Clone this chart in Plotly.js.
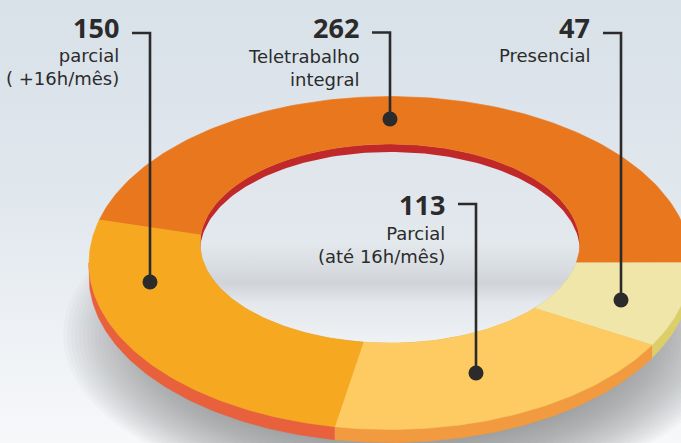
<!DOCTYPE html>
<html><head><meta charset="utf-8">
<script src="https://cdn.plot.ly/plotly-3.0.1.min.js"></script>
<style>html,body{margin:0;padding:0;background:#e3e9ef;} #chart{width:681px;height:443px;}</style>
</head><body><div id="chart"></div>
<script>
// ---- data ----
const categories = ['Teletrabalho integral', 'Presencial', 'Parcial (até 16h/mês)', 'parcial ( +16h/mês)'];
const values = [262, 47, 113, 150];
const valueLabels = ['262', '47', '113', '150'];
const nameLines = [['Teletrabalho', 'integral'], ['Presencial'], ['Parcial', '(até 16h/mês)'], ['parcial', '( +16h/mês)']];

// ---- styles ----
const topColors = ['#e8771e', '#f0e6aa', '#fdcb61', '#f6a920'];
const wallColors = ['#c8401f', '#dccf6a', '#f29a3f', '#e8603c'];
const innerWallColor = '#c0282a';
const ink = '#2b2b2b';
const NUM_FONT = '"Noto Sans", "Open Sans", sans-serif';
const TXT_FONT = '"DejaVu Sans", "Noto Sans", sans-serif';

// ---- label placement (pixel space) ----
const dotPos = [[390, 119], [621, 300], [476, 373], [150, 282]];
const elbowY = [32.5, 33, 204, 33];
const numberY = [27.5, 27, 204.5, 27];

// ---- ring geometry (normalised, tilted ellipse) ----
const G = {cx: 390, cy: 263, sx: 301, sy: 166.5, ih: 0.117, irx: 0.631, iry: 0.598,
           depth: 13, innerDepth: 8, start: 165};
const SH = {cx: 398, cy: 335, rx: 335, ry: 165, drx: 4, dry: 2.1, layers: 30, color: 'rgba(135,135,135,0.04)'};
const rad = d => d * Math.PI / 180;
function scr(u, v) { return [G.cx + G.sx * u, G.cy - G.sy * v]; }
function innerT(th) {
  const c = Math.cos(th), s = Math.sin(th);
  const A = c * c / (G.irx * G.irx) + s * s / (G.iry * G.iry);
  const B = -2 * s * G.ih / (G.iry * G.iry);
  const C = G.ih * G.ih / (G.iry * G.iry) - 1;
  return (-B + Math.sqrt(B * B - 4 * A * C)) / (2 * A);
}
function range(a, b, n) { const out = []; for (let i = 0; i <= n; i++) out.push(a + (b - a) * i / n); return out; }

const traces = [];
// background
traces.push({x: [0, 681, 681, 0, 0], y: [0, 0, 443, 443, 0], mode: 'lines', fill: 'toself',
  line: {width: 0}, fillcolor: '#e3e9ef', hoverinfo: 'skip',
  fillgradient: {type: 'vertical', start: 0, stop: 443,
    colorscale: [[0, '#d9e1e9'], [0.45, '#e0e7ed'], [0.75, '#eef1f5'], [1, '#f6f8fa']]}});
// soft shadow under ring (stacked translucent ellipses)
for (let k = 0; k < SH.layers; k++) {
  const rx = SH.rx - k * SH.drx, ry = SH.ry - k * SH.dry;
  const xs = [], ys = [];
  range(0, 360, 120).forEach(d => { xs.push(SH.cx + rx * Math.cos(rad(d))); ys.push(SH.cy - ry * Math.sin(rad(d))); });
  traces.push({x: xs, y: ys, mode: 'lines', fill: 'toself', line: {width: 0}, hoverinfo: 'skip',
    fillcolor: SH.color});
}

// slice angles
const total = values.reduce((a, b) => a + b, 0);
const angles = [];
let a0 = G.start;
values.forEach(v => { const a1 = a0 - 360 * v / total; angles.push([a0, a1]); a0 = a1; });

// outer walls (front half)
angles.forEach(([s, e], i) => {
  const hi = Math.min(s, 0), lo = Math.max(e, -180);
  if (hi <= lo) return;
  const xs = [], ys = [];
  const ts = range(hi, lo, 80);
  ts.forEach(d => { const p = scr(Math.cos(rad(d)), Math.sin(rad(d))); xs.push(p[0]); ys.push(p[1]); });
  ts.slice().reverse().forEach(d => { const p = scr(Math.cos(rad(d)), Math.sin(rad(d))); xs.push(p[0]); ys.push(p[1] + G.depth); });
  traces.push({x: xs, y: ys, mode: 'lines', fill: 'toself', fillcolor: wallColors[i],
    line: {width: 0.6, color: wallColors[i]}, hoverinfo: 'skip'});
});

// hole floor
(function () {
  const xs = [], ys = [];
  range(0, 360, 180).forEach(d => { const p = scr(G.irx * Math.cos(rad(d)), G.ih + G.iry * Math.sin(rad(d))); xs.push(p[0]); ys.push(p[1]); });
  const top = scr(0, G.ih + G.iry)[1], bot = scr(0, G.ih - G.iry)[1];
  traces.push({x: xs, y: ys, mode: 'lines', fill: 'toself', line: {width: 0}, hoverinfo: 'skip',
    fillcolor: '#e3e8ee',
    fillgradient: {type: 'vertical', start: top, stop: bot,
      colorscale: [[0, '#dfe5eb'], [0.5, '#e3e8ed'], [0.62, '#d9dde1'], [0.7, '#d0d4d8'], [0.8, '#e4e8ec'], [1, '#eef2f5']]}});
  // inner (back) wall crescent
  const cx = [], cy = [];
  const ph = range(0, 180, 120);
  ph.forEach(d => { const p = scr(G.irx * Math.cos(rad(d)), G.ih + G.iry * Math.sin(rad(d))); cx.push(p[0]); cy.push(p[1]); });
  ph.slice().reverse().forEach(d => { const p = scr(G.irx * Math.cos(rad(d)), G.ih + G.iry * Math.sin(rad(d))); cx.push(p[0]); cy.push(p[1] + G.innerDepth); });
  traces.push({x: cx, y: cy, mode: 'lines', fill: 'toself', fillcolor: innerWallColor,
    line: {width: 0}, hoverinfo: 'skip'});
})();

// top surfaces
angles.forEach(([s, e], i) => {
  const xs = [], ys = [];
  const n = Math.max(8, Math.round(Math.abs(s - e)));
  const ts = range(s, e, n);
  ts.forEach(d => { const p = scr(Math.cos(rad(d)), Math.sin(rad(d))); xs.push(p[0]); ys.push(p[1]); });
  ts.slice().reverse().forEach(d => { const t = innerT(rad(d)); const p = scr(t * Math.cos(rad(d)), t * Math.sin(rad(d))); xs.push(p[0]); ys.push(p[1]); });
  xs.push(xs[0]); ys.push(ys[0]);
  traces.push({x: xs, y: ys, mode: 'lines', fill: 'toself', fillcolor: topColors[i],
    line: {width: 0.6, color: topColors[i]}, name: categories[i], hoverinfo: 'skip'});
});

// leader lines + dots
const annotations = [];
categories.forEach((c, i) => {
  const [dx, dy] = dotPos[i];
  traces.push({x: [dx - 18, dx, dx], y: [elbowY[i], elbowY[i], dy], mode: 'lines',
    line: {color: ink, width: 2.6}, hoverinfo: 'skip'});
  annotations.push({x: dx - 30, y: numberY[i], xref: 'x', yref: 'y', xanchor: 'right', yanchor: 'middle',
    text: '<b>' + valueLabels[i] + '</b>', showarrow: false, borderpad: 0,
    font: {family: NUM_FONT, size: 27, color: ink}});
  annotations.push({x: dx - 30, y: numberY[i] + 17, xref: 'x', yref: 'y', xanchor: 'right', yanchor: 'top',
    text: nameLines[i].join('<br>'), align: 'right', showarrow: false, borderpad: 0,
    font: {family: TXT_FONT, size: 18, color: ink}});
});
traces.push({x: dotPos.map(p => p[0]), y: dotPos.map(p => p[1]), mode: 'markers',
  marker: {size: 15, color: ink}, hoverinfo: 'skip'});

const layout = {
  width: 681, height: 443, margin: {l: 0, r: 0, t: 0, b: 0},
  paper_bgcolor: '#e3e9ef', plot_bgcolor: 'rgba(0,0,0,0)', showlegend: false,
  xaxis: {range: [0, 681], visible: false, fixedrange: true},
  yaxis: {range: [443, 0], visible: false, fixedrange: true},
  annotations: annotations
};
Plotly.newPlot('chart', traces, layout, {displayModeBar: false, staticPlot: true});
</script></body></html>
